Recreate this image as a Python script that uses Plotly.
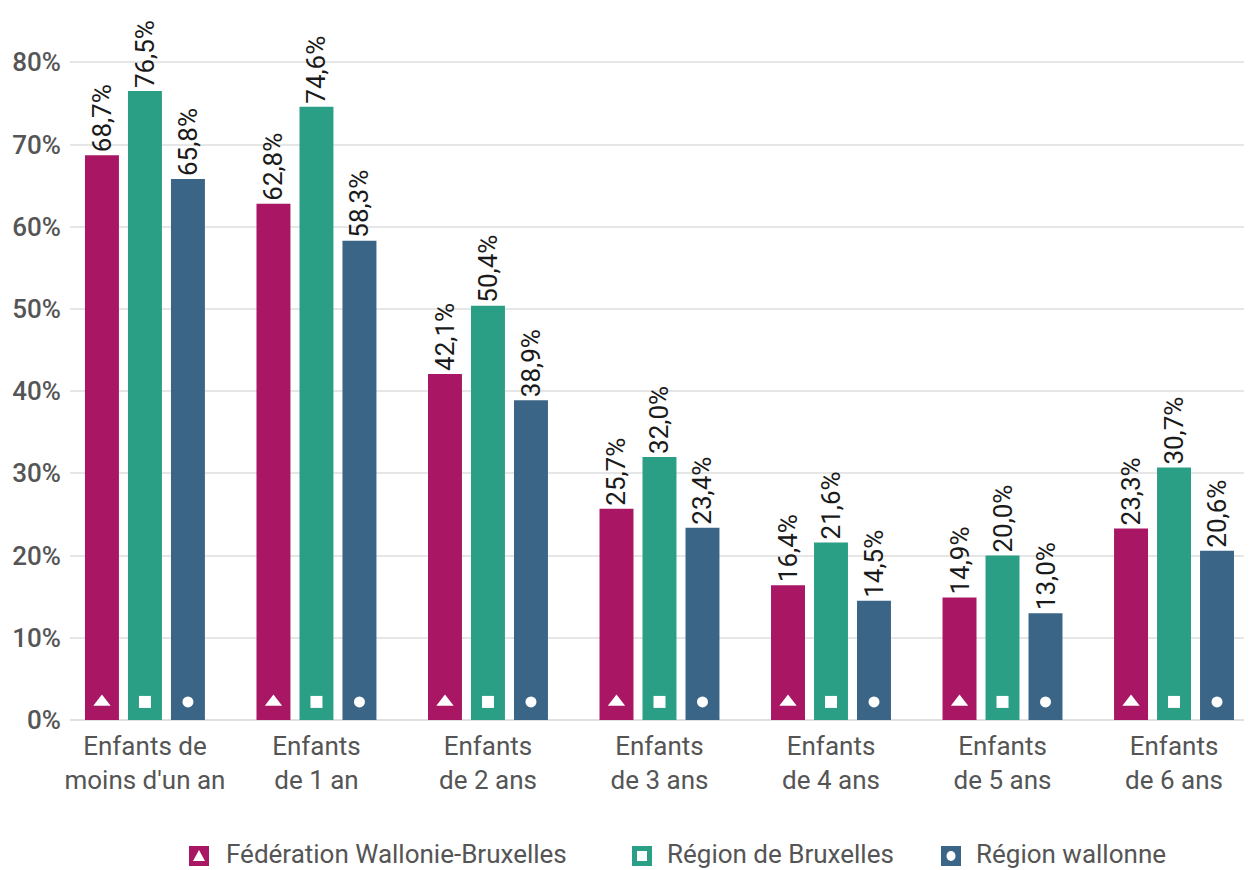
import plotly.graph_objects as go

categories = ["Enfants de<br>moins d'un an", "Enfants<br>de 1 an", "Enfants<br>de 2 ans",
              "Enfants<br>de 3 ans", "Enfants<br>de 4 ans", "Enfants<br>de 5 ans", "Enfants<br>de 6 ans"]
series_names = ["Fédération Wallonie-Bruxelles", "Région de Bruxelles", "Région wallonne"]
fwb = [68.7, 62.8, 42.1, 25.7, 16.4, 14.9, 23.3]
bxl = [76.5, 74.6, 50.4, 32.0, 21.6, 20.0, 30.7]
wal = [65.8, 58.3, 38.9, 23.4, 14.5, 13.0, 20.6]
y_ticks = [0, 10, 20, 30, 40, 50, 60, 70, 80]

colors = ["#A91764", "#2A9F85", "#3B6587"]
symbols = ["triangle-up", "square", "circle"]
msizes = [15, 12, 11]

BARGAP = 0.248
GROUPGAP = 0.21
slot = (1 - BARGAP) / 3

fig = go.Figure()
xs = list(range(len(categories)))
for j, (name, vals) in enumerate(zip(series_names, [fwb, bxl, wal])):
    fig.add_trace(go.Bar(
        x=xs, y=vals, name=name, marker=dict(color=colors[j], line=dict(width=0)),
        text=[f"{v:.1f}%".replace(".", ",") for v in vals],
        textposition="outside", textangle=-90, constraintext="none",
        textfont=dict(family="Roboto", size=26, color="#1a1a1a"),
        cliponaxis=False, showlegend=False, hoverinfo="skip"))
for j in range(3):
    fig.add_trace(go.Scatter(
        x=[i + (j - 1) * slot for i in xs], y=[2.2] * len(xs), mode="markers",
        marker=dict(symbol=symbols[j], size=msizes[j], color="white", line=dict(width=0)),
        showlegend=False, hoverinfo="skip"))

# page has an 8px body margin: figure origin is at (8, 8) in the screenshot
OFF = 8
W, H = 1244, 862
L, R, T, B = 62, 2, 5, 150
pw, ph = W - L - R, H - T - B
def px2x(px):
    return (px - OFF - L) / pw
def py2y(py):
    return (H - B - (py - OFF)) / ph
leg_box_px = [199, 642, 951]
leg_txt_px = [224, 665, 974]
leg_y_px = 856
box = 20
for j in range(3):
    bx = leg_box_px[j]
    fig.add_shape(type="rect", xref="paper", yref="paper",
                  x0=px2x(bx - box / 2), x1=px2x(bx + box / 2),
                  y0=py2y(leg_y_px + box / 2), y1=py2y(leg_y_px - box / 2),
                  fillcolor=colors[j], line=dict(width=0))
    if j == 0:
        path = (f"M {px2x(bx - 6)},{py2y(leg_y_px + 5)} L {px2x(bx + 6)},{py2y(leg_y_px + 5)} "
                f"L {px2x(bx)},{py2y(leg_y_px - 6)} Z")
        fig.add_shape(type="path", xref="paper", yref="paper", path=path,
                      fillcolor="white", line=dict(width=0))
    elif j == 1:
        fig.add_shape(type="rect", xref="paper", yref="paper",
                      x0=px2x(bx - 5), x1=px2x(bx + 5),
                      y0=py2y(leg_y_px + 5), y1=py2y(leg_y_px - 5),
                      fillcolor="white", line=dict(width=0))
    else:
        fig.add_shape(type="circle", xref="paper", yref="paper",
                      x0=px2x(bx - 4.5), x1=px2x(bx + 4.5),
                      y0=py2y(leg_y_px + 5), y1=py2y(leg_y_px - 5),
                      fillcolor="white", line=dict(width=0))
    fig.add_annotation(x=px2x(leg_txt_px[j]), y=py2y(854), xref="paper", yref="paper",
                       text=series_names[j], showarrow=False, xanchor="left", yanchor="middle",
                       font=dict(family="Roboto", size=26, color="#555"))

fig.update_layout(
    width=W, height=H, margin=dict(l=L, r=R, t=T, b=B),
    barmode="group", bargap=BARGAP, bargroupgap=GROUPGAP,
    plot_bgcolor="white", paper_bgcolor="white",
    font=dict(family="Roboto", color="#555"),
    xaxis=dict(range=[-0.437, 6.443], tickvals=xs, ticktext=categories,
               tickfont=dict(size=26, color="#555"), showgrid=False, zeroline=False,
               showline=False, ticks="", ticklabelstandoff=8),
    yaxis=dict(range=[0, 86], tickvals=y_ticks, ticktext=[f"{t}%" for t in y_ticks],
               tickfont=dict(size=26, color="#555", weight=500), showgrid=True,
               gridcolor="#e6e6e6", gridwidth=1.5, zeroline=True, zerolinecolor="#e0e0e0",
               zerolinewidth=1.5, ticks="", ticklabelstandoff=8),
)
fig.write_html("out.html")
